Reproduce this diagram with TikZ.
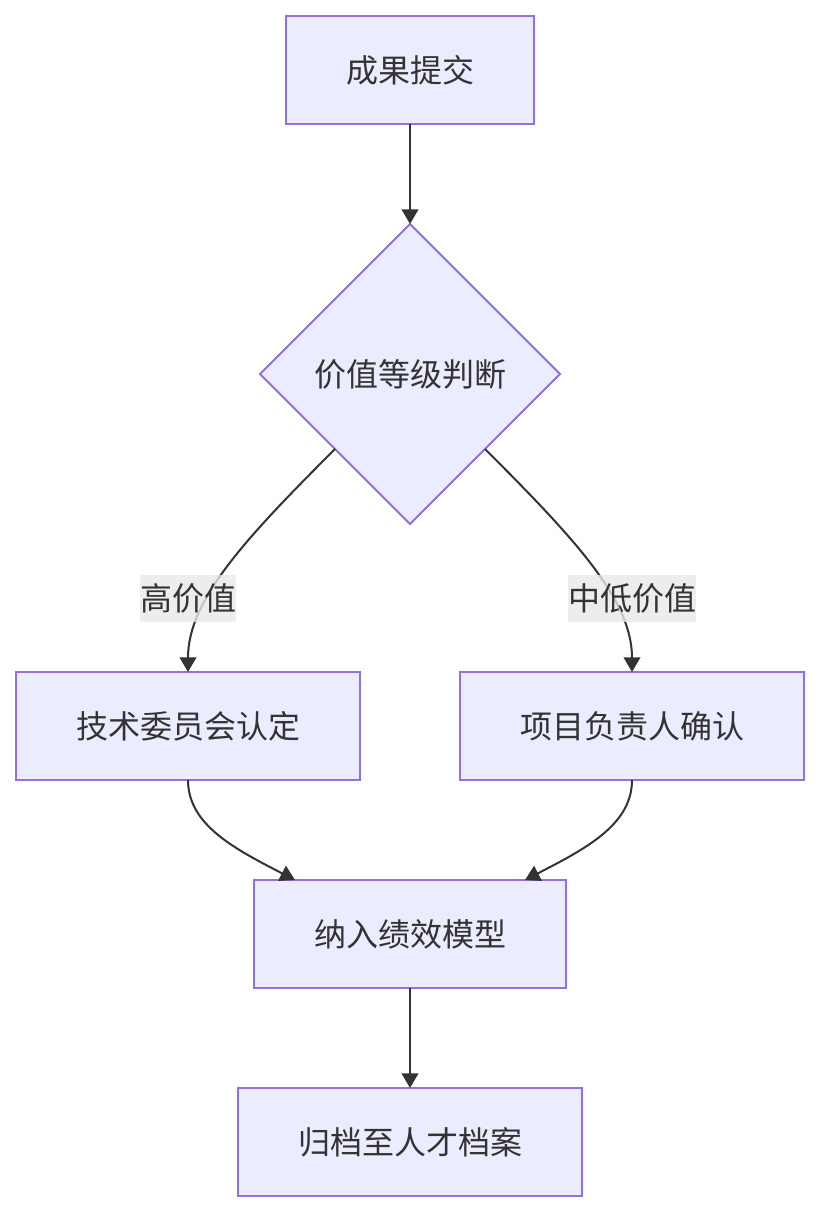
\documentclass[tikz,border=0pt]{standalone}
\usepackage{fontspec}
\setmainfont{Noto Sans CJK SC}
\usetikzlibrary{positioning,arrows.meta,shapes.geometric}
\definecolor{boxfill}{HTML}{ECECFF}
\definecolor{boxline}{HTML}{9370DB}
\definecolor{ink}{HTML}{333333}
\definecolor{lblbg}{HTML}{E8E8E8}

\begin{document}
\begin{tikzpicture}[
x=0.75pt, y=-0.75pt,
box/.style={draw=boxline, fill=boxfill, line width=1.5pt, outer sep=0pt, text=ink, font=\fontsize{24pt}{28pt}\selectfont, inner xsep=45pt, minimum height=81pt},
choice/.style={diamond, draw=boxline, fill=boxfill, line width=1.5pt, outer sep=0pt, text=ink, font=\fontsize{24pt}{28pt}\selectfont, minimum width=225pt, minimum height=225pt, inner sep=0pt},
lbl/.style={fill=lblbg, fill opacity=0.8, text opacity=1, text=ink, font=\fontsize{24pt}{28pt}\selectfont, inner sep=0pt, minimum height=35pt},
arr/.style={-{Triangle[length=11pt,width=12.5pt]}, line width=1.5pt, draw=ink}
]
\useasboundingbox (0,0) rectangle (820,1212);

\node[box] (submit) at (410,70) {成果提交};
\node[choice, below=75pt of submit] (judge) {价值等级判断};
\node[box, below=111pt of judge, xshift=-166.5pt] (tech) {技术委员会认定};
\node[box, below=111pt of judge, xshift=166.5pt] (lead) {项目负责人确认};
\node[box, below=267pt of judge] (model) {纳入绩效模型};
\node[box, below=75pt of model] (archive) {归档至人才档案};

\draw[arr] (submit) -- (judge);
\draw[arr] (judge.south west) .. controls +(-90,90) and +(0,-72) .. (tech.north);
\draw[arr] (judge.south east) .. controls +(90,90) and +(0,-72) .. (lead.north);
\draw[arr] (tech.south) .. controls +(0,45) and +(-60,-31) .. ([xshift=-86.25pt]model.north);
\draw[arr] (lead.south) .. controls +(0,45) and +(60,-31) .. ([xshift=86.25pt]model.north);
\draw[arr] (model) -- (archive);

% edge labels sit over the curves
\node[lbl, above=37.5pt of tech] (high) {高价值};
\node[lbl, above=37.5pt of lead] (midlow) {中低价值};
\end{tikzpicture}
\end{document}
